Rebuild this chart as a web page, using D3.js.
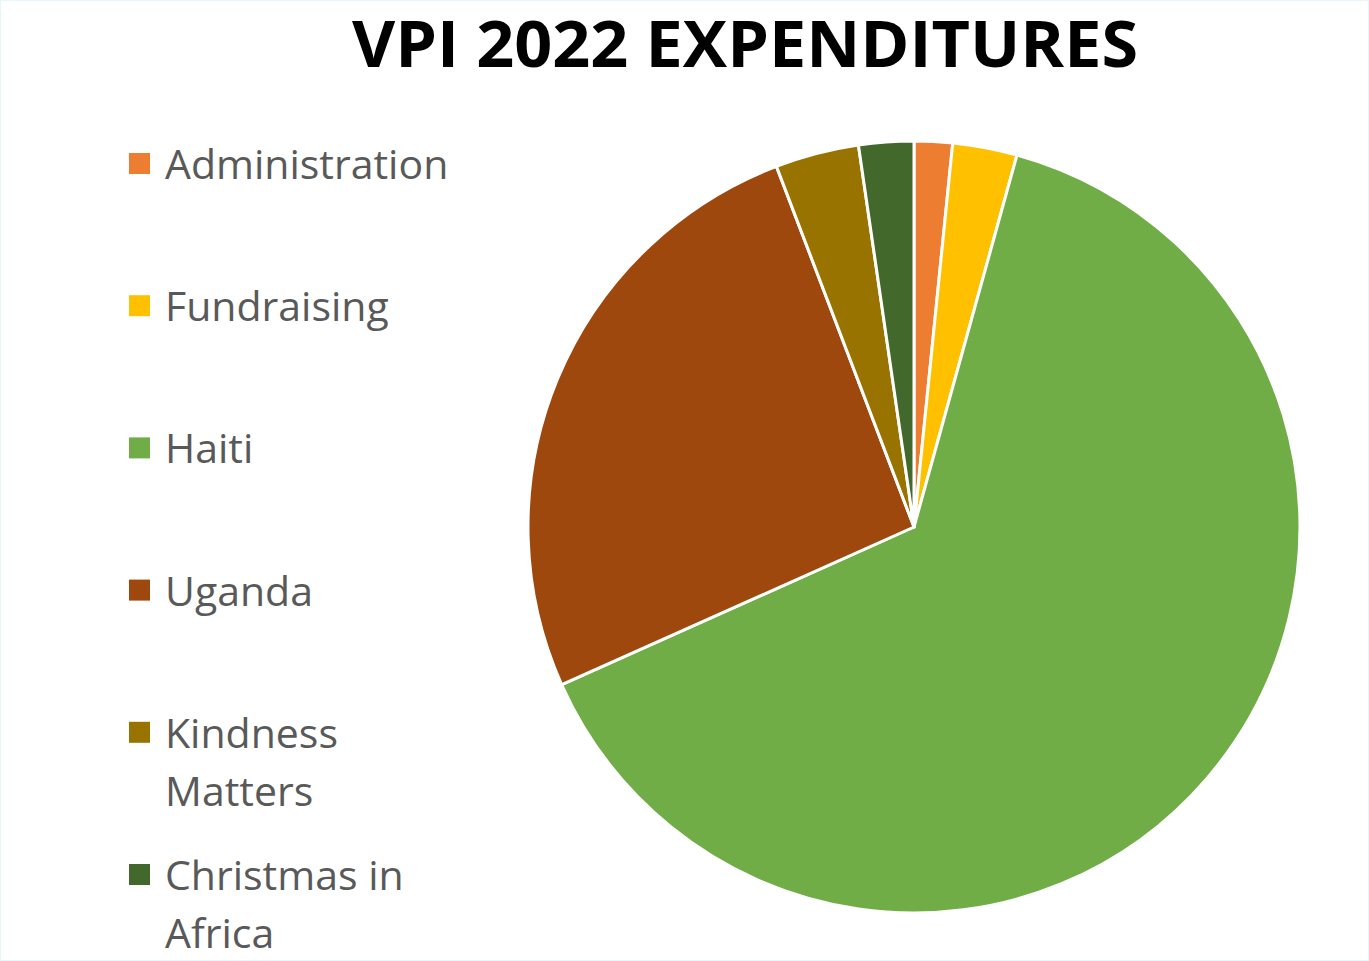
<!DOCTYPE html>
<html>
<head>
<meta charset="utf-8">
<script src="https://cdn.jsdelivr.net/npm/d3@7"></script>
<style>
  html, body { margin: 0; padding: 0; background: #fff; }
  #chart { width: 1369px; height: 961px; }
</style>
</head>
<body>
<div id="chart"></div>
<script>
// data (percent of total)
const categories = ["Administration", "Fundraising", "Haiti", "Uganda", "Kindness Matters", "Christmas in Africa"];
const values = [1.6, 2.7, 64.0, 25.9, 3.5, 2.3];
const colors = ["#ED7D31", "#FFC000", "#70AD47", "#9E480E", "#997300", "#43682B"];
const legendLines = [["Administration"], ["Fundraising"], ["Haiti"], ["Uganda"], ["Kindness", "Matters"], ["Christmas in", "Africa"]];
const title = "VPI 2022 EXPENDITURES";

const width = 1369, height = 961;
const cx = 914, cy = 527, radius = 386;

const svg = d3.select("#chart")
  .append("svg")
    .attr("width", width)
    .attr("height", height);

// faint frame round the picture
svg.append("rect")
  .attr("x", 0.5).attr("y", 0.5)
  .attr("width", width - 1).attr("height", height - 1)
  .attr("fill", "none")
  .attr("stroke", "#e6f7fb");

svg.append("text")
  .attr("x", 745)
  .attr("y", 67)
  .attr("text-anchor", "middle")
  .attr("font-family", "'Open Sans', sans-serif")
  .attr("font-weight", "bold")
  .attr("font-size", 64)
  .attr("textLength", 786)
  .attr("lengthAdjust", "spacingAndGlyphs")
  .attr("fill", "#000")
  .text(title);

const table = categories.map((c, i) => ({ name: c, value: values[i], color: colors[i], lines: legendLines[i] }));

const pie = d3.pie().sort(null).value(d => d.value);
const arc = d3.arc().innerRadius(0).outerRadius(radius);

const g = svg.append("g").attr("transform", `translate(${cx},${cy})`);

g.selectAll("path")
  .data(pie(table))
  .enter()
  .append("path")
    .attr("d", arc)
    .attr("fill", d => d.data.color)
    .attr("stroke", "#fff")
    .attr("stroke-width", 3)
    .attr("stroke-linejoin", "round");

// legend
const y = d3.scalePoint().domain(categories).range([164, 875]);

const legend = svg.append("g")
  .selectAll("g")
  .data(table)
  .enter()
  .append("g")
    .attr("transform", d => `translate(0,${y(d.name)})`);

legend.append("rect")
  .attr("x", 129).attr("y", -11)
  .attr("width", 21).attr("height", 21)
  .attr("fill", d => d.color);

legend.append("text")
  .attr("x", 165)
  .attr("y", 15)
  .attr("font-family", "'Open Sans', sans-serif")
  .attr("font-size", 41)
  .attr("fill", "#595959")
  .selectAll("tspan")
  .data(d => d.lines)
  .enter()
  .append("tspan")
    .attr("x", 165)
    .attr("dy", (d, i) => i === 0 ? 0 : 58)
    .text(d => d);
</script>
</body>
</html>
